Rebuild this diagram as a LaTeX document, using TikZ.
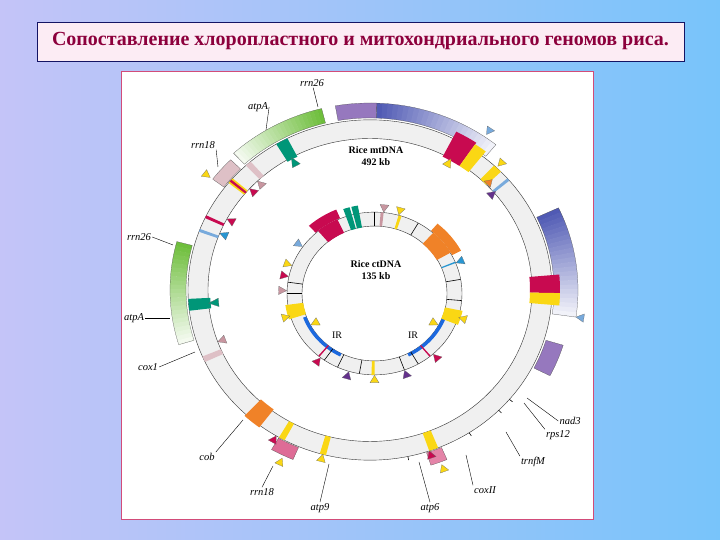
\documentclass[tikz,border=0pt]{standalone}
\usepackage{fontspec}
\setmainfont{Liberation Serif}
\definecolor{crim}{RGB}{200,10,80}
\definecolor{teal2}{RGB}{0,150,120}
\definecolor{org}{RGB}{240,130,40}
\definecolor{yel}{RGB}{250,215,20}
\definecolor{purp}{RGB}{150,120,190}
\definecolor{blu}{RGB}{80,90,180}
\definecolor{lblue}{RGB}{120,170,220}
\definecolor{grn}{RGB}{110,190,60}
\definecolor{pnk}{RGB}{200,150,160}
\definecolor{cyan2}{RGB}{40,150,210}
\definecolor{vio}{RGB}{100,50,140}
\newcommand\seg[5]{\fill[#1] (#2:#4pt) arc[start angle=#2,end angle=#3,radius=#4pt] -- (#3:#5pt) arc[start angle=#3,end angle=#2,radius=#5pt] -- cycle;}
\newcommand\segd[5]{\filldraw[fill=#1,draw=black!70,very thin] (#2:#4pt) arc[start angle=#2,end angle=#3,radius=#4pt] -- (#3:#5pt) arc[start angle=#3,end angle=#2,radius=#5pt] -- cycle;}
\newcommand\grad[5]{\foreach \k in {0,...,23}{\pgfmathsetmacro\aa{#2+(#3-#2)*\k/24}\pgfmathsetmacro\ab{#2+(#3-#2)*(\k+1.1)/24}\pgfmathsetmacro\pp{100-\k*4}\seg{#1!\pp!white}{\aa}{\ab}{#4}{#5}}%
\draw[black!70,very thin] (#2:#4pt) arc[start angle=#2,end angle=#3,radius=#4pt] -- (#3:#5pt) arc[start angle=#3,end angle=#2,radius=#5pt] -- cycle;}
\newcommand\tri[4]{\pgfmathsetmacro\dd{4.5/#4*57.3}\filldraw[fill=#1,draw=black!60,very thin] (#2:#3pt) -- ({#2-\dd}:#4pt) -- ({#2+\dd}:#4pt) -- cycle;}
\newcommand\tck[3]{\draw[black,semithick] (#1:#2pt) -- (#1:#3pt);}
\tikzset{lab/.style={font=\itshape\fontsize{10.5}{12}\selectfont,inner sep=1pt},lead/.style={black,thin}}
\begin{document}
\begin{tikzpicture}[x=1pt,y=1pt]
\useasboundingbox (0,0) rectangle (720,540);
\shade[left color={rgb,255:red,196;green,196;blue,248},right color={rgb,255:red,120;green,196;blue,250}] (0,0) rectangle (720,540);
\node[draw={rgb,255:red,20;green,20;blue,100},fill={rgb,255:red,252;green,236;blue,244},thick,minimum width=647,minimum height=39,inner sep=0] (title) at (360.5,498.5) {};
\node[text={rgb,255:red,140;green,0;blue,60},font=\bfseries\fontsize{20}{22}\selectfont] (tt) at (360.5,498.5) {Сопоставление хлоропластного и митохондриального геномов риса.};
\node[draw=purple!70,fill=white,minimum width=472,minimum height=448,inner sep=0] (panel) at (357,245) {};
% outer ring
\begin{scope}[shift={(370,250)},yscale=0.935]
\filldraw[fill=gray!12,draw=black!80,thin,even odd rule] (0,0) circle[radius=182pt] (0,0) circle[radius=162pt];
\grad{grn}{104}{133}{184}{200}
\seg{purp}{88}{100}{184}{200}
\draw[black!70,very thin] (88:184pt) arc[start angle=88,end angle=100,radius=184pt] -- (100:200pt) arc[start angle=100,end angle=88,radius=200pt] -- cycle;
\grad{blu}{88}{51}{184}{200}
\grad{blu}{25}{-8}{184}{208}
\segd{purp}{-17}{-27}{184}{202}
\grad{grn}{165}{197}{184}{200}
\seg{crim}{56}{63}{160}{190}
\seg{yel}{52}{56}{160}{188}
\seg{yel}{44}{47}{162}{182}
\seg{crim}{-1}{5}{160}{190}
\seg{yel}{-5}{-1}{160}{190}
\seg{teal2}{117}{121}{160}{182}
\seg{teal2}{183}{187}{160}{182}
\segd{pnk!60}{135}{143}{183}{197}
\seg{yel}{139}{141}{162}{182}
\seg{crim}{139.6}{140.4}{162}{182}
\seg{org}{-127}{-133}{160}{184}
\segd{crim!60}{-113}{-120}{183}{197}
\seg{yel}{-118}{-120}{162}{182}
\seg{yel}{-104}{-106}{162}{182}
\seg{yel}{-68}{-71}{162}{182}
\segd{crim!50}{-67}{-72}{183}{197}
\seg{pnk!60}{131}{133}{162}{182}
\seg{crim}{154}{155}{162}{182}
\seg{lblue}{159}{160}{162}{182}
\seg{pnk!60}{203}{205}{162}{182}
\seg{lblue}{40}{41}{162}{182}
\tri{lblue}{55}{203}{211}
\tri{yel}{46}{184}{192}
\tri{yel}{60}{162}{153}
\tri{org}{44}{170}{163}
\tri{vio}{40}{164}{156}
\tri{yel}{143}{200}{208}
\tri{crim}{138}{162}{154}
\tri{pnk}{134}{162}{154}
\tri{crim}{152}{162}{154}
\tri{cyan2}{158}{162}{154}
\tri{teal2}{119}{162}{152}
\tri{teal2}{185}{162}{152}
\tri{pnk}{200}{162}{154}
\tri{lblue}{-8}{208}{216}
\tri{crim}{-121}{182}{190}
\tri{yel}{-116}{200}{208}
\tri{yel}{-105}{182}{190}
\tri{crim}{-71}{182}{190}
\tri{yel}{-69}{200}{208}
\tck{-45}{182}{186}
\tck{-40}{182}{186}
\tck{-57}{182}{186}
\tck{-78}{182}{186}
\end{scope}
% inner ring
\begin{scope}[shift={(374.5,246.5)},yscale=0.93]
\filldraw[fill=gray!12,draw=black!80,thin,even odd rule] (0,0) circle[radius=87.5pt] (0,0) circle[radius=72.5pt];
\seg{cyan2!70!blue}{200}{243}{72.5}{76}
\seg{cyan2!70!blue}{-63}{-20}{72.5}{76}
\seg{crim}{115}{130}{72}{88}
\seg{crim}{113}{132}{88}{98}
\seg{teal2}{100}{104}{72}{96}
\seg{teal2}{105}{109}{72}{96}
\seg{org}{30}{48}{72}{88}
\seg{org}{28}{50}{88}{98}
\seg{yel}{188}{198}{72}{90}
\seg{yel}{-12}{-22}{72}{90}
\seg{yel}{-90}{-92}{72.5}{87.5}
\seg{yel}{72}{74}{72.5}{87.5}
\seg{pnk}{84}{86}{72.5}{87.5}
\seg{cyan2}{22}{23}{72.5}{87.5}
\seg{crim}{230}{231}{72.5}{87.5}
\seg{crim}{-50}{-51}{72.5}{87.5}
\tck{90}{72.5}{87.5}
\tck{60}{72.5}{87.5}
\tck{10}{72.5}{87.5}
\tck{-5}{72.5}{87.5}
\tck{180}{72.5}{87.5}
\tck{172}{72.5}{87.5}
\tck{235}{72.5}{87.5}
\tck{245}{72.5}{87.5}
\tck{260}{72.5}{87.5}
\tck{-70}{72.5}{87.5}
\tck{-60}{72.5}{87.5}
\tri{pnk}{84}{88}{96}
\tri{yel}{74}{88}{96}
\tri{cyan2}{22}{88}{96}
\tri{lblue}{145}{88}{96}
\tri{yel}{160}{88}{96}
\tri{crim}{168}{88}{96}
\tri{pnk}{178}{88}{96}
\tri{yel}{196}{88}{96}
\tri{yel}{-17}{88}{96}
\tri{yel}{208}{72}{64}
\tri{yel}{-28}{72}{64}
\tri{crim}{232}{88}{96}
\tri{vio}{253}{88}{96}
\tri{yel}{-90}{88}{96}
\tri{vio}{-70}{88}{96}
\tri{crim}{-48}{88}{96}
\end{scope}
\node[font=\bfseries\fontsize{10}{12}\selectfont,align=center] (mt) at (376,384) {Rice mtDNA\\492 kb};
\node[font=\bfseries\fontsize{10}{12}\selectfont,align=center] (ct) at (376,270) {Rice ctDNA\\135 kb};
\node[font=\fontsize{10}{12}\selectfont] (ir1) at (337,205) {IR};
\node[font=\fontsize{10}{12}\selectfont] (ir2) at (413,205) {IR};
\node[lab] (l1) at (312,457) {rrn26}; \coordinate (p1) at (318,433); \draw[lead] (l1) -- (p1);
\node[lab] (l2) at (258,433) {atpA}; \coordinate (p2) at (266,410); \draw[lead] (l2.east) -- (p2);
\node[lab] (l3) at (203,395) {rrn18}; \coordinate (p3) at (218,373); \draw[lead] (l3.south east) -- (p3);
\node[lab] (l4) at (139,303) {rrn26}; \coordinate (p4) at (173,295); \draw[lead] (l4.east) -- (p4);
\node[lab] (l5) at (134,222) {atpA}; \coordinate (p5) at (170,222); \draw[lead] (l5.east) -- (p5);
\node[lab] (l6) at (148,173) {cox1}; \coordinate (p6) at (195,188); \draw[lead] (l6.east) -- (p6);
\node[lab] (l7) at (207,83) {cob}; \coordinate (p7) at (243,120); \draw[lead] (l7.north east) -- (p7);
\node[lab] (l8) at (262,48) {rrn18}; \coordinate (p8) at (273,74); \draw[lead] (l8.north) -- (p8);
\node[lab] (l9) at (320,32) {atp9}; \coordinate (p9) at (329,76); \draw[lead] (l9.north) -- (p9);
\node[lab] (l10) at (430,32) {atp6}; \coordinate (p10) at (419,78); \draw[lead] (l10.north) -- (p10);
\node[lab] (l11) at (485,50) {coxII}; \coordinate (p11) at (466,85); \draw[lead] (l11.north west) -- (p11);
\node[lab] (l12) at (533,78) {trnfM}; \coordinate (p12) at (506,108); \draw[lead] (l12.north west) -- (p12);
\node[lab] (l13) at (570,119) {nad3}; \coordinate (p13) at (527,142); \draw[lead] (l13.west) -- (p13);
\node[lab] (l14) at (558,105) {rps12}; \coordinate (p14) at (524,137); \draw[lead] (l14.north west) -- (p14);
\end{tikzpicture}
\end{document}
